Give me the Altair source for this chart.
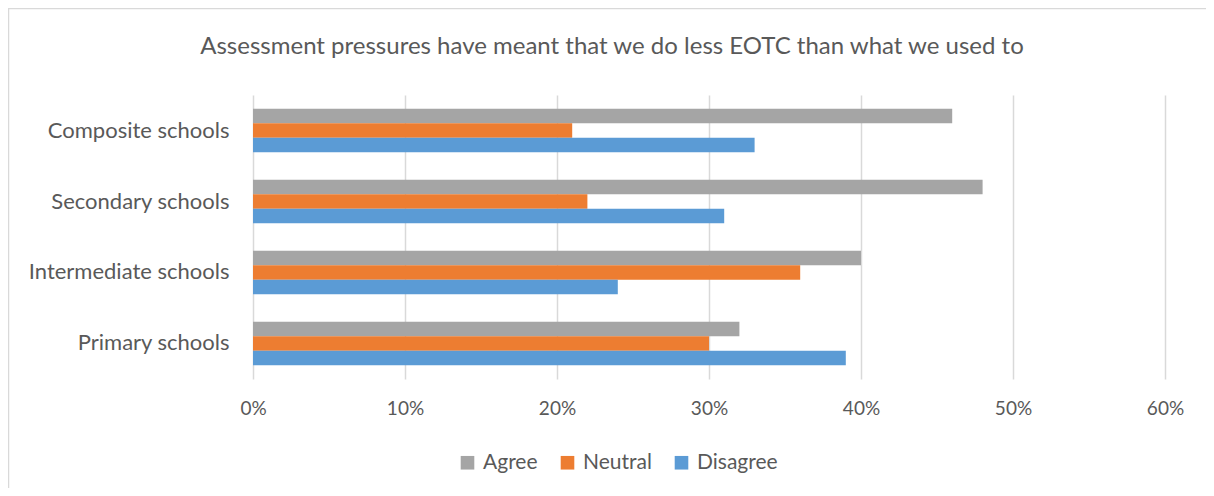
import altair as alt
import pandas as pd

categories = ["Composite schools", "Secondary schools", "Intermediate schools", "Primary schools"]
series = ["Agree", "Neutral", "Disagree"]
agree = [0.46, 0.48, 0.40, 0.32]
neutral = [0.21, 0.22, 0.36, 0.30]
disagree = [0.33, 0.31, 0.24, 0.39]
colors = ["#A5A5A5", "#ED7D31", "#5B9BD5"]
x_ticks = [0, 0.1, 0.2, 0.3, 0.4, 0.5, 0.6]
title_text = "Assessment pressures have meant that we do less EOTC than what we used to"

rows = []
for i, c in enumerate(categories):
    for s, vals in zip(series, [agree, neutral, disagree]):
        rows.append({"category": c, "series": s, "value": vals[i]})
df = pd.DataFrame(rows)

FONT = "Lato"
TXT = "#595959"

bars = alt.Chart(df).mark_bar().encode(
    y=alt.Y("category:N", sort=categories,
            scale=alt.Scale(paddingInner=0.387, paddingOuter=0.194),
            axis=alt.Axis(title=None, ticks=False, domain=False, labelFontSize=22,
                          labelColor=TXT, labelFont=FONT, labelPadding=24, grid=False,
                          labelLimit=400)),
    yOffset=alt.YOffset("series:N", sort=series, scale=alt.Scale(paddingInner=0, paddingOuter=0)),
    x=alt.X("value:Q", scale=alt.Scale(domain=[0, 0.6], nice=False),
            axis=alt.Axis(title=None, format=".0%", values=x_ticks, ticks=False, domain=False,
                          labelFontSize=19, labelColor=TXT, labelFont=FONT, labelPadding=20,
                          labelFlush=False,
                          grid=True, gridColor="#D9D9D9", gridWidth=1.5)),
    color=alt.Color("series:N", sort=series,
                    scale=alt.Scale(domain=series, range=colors),
                    legend=alt.Legend(title=None, orient="none", direction="horizontal",
                                      legendX=204, legendY=357, symbolType="square",
                                      symbolSize=185, symbolStrokeWidth=0, labelFontSize=21,
                                      labelColor=TXT, labelFont=FONT, columnPadding=19,
                                      labelOffset=5)),
)

frame = alt.Chart(pd.DataFrame({"a": [0]})).mark_rect(
    fill=None, stroke="#D9D9D9", strokeWidth=1.5, clip=False
).encode(
    x=alt.value(-244.5), x2=alt.value(990), y=alt.value(-86.5), y2=alt.value(430)
)

title = alt.Chart(pd.DataFrame({"t": [title_text]})).mark_text(
    font=FONT, fontSize=24, color=TXT, align="center", baseline="middle", clip=False
).encode(
    text="t:N", x=alt.value(359), y=alt.value(-48)
)

chart = alt.layer(frame, bars, title).properties(
    width=912, height=284,
    padding={"left": 245, "top": 87, "right": 41, "bottom": 109},
    autosize=alt.AutoSizeParams(type="none"),
    background="white",
).configure_view(strokeWidth=0, stroke=None)

chart.save("out.html", embed_options={"renderer": "svg", "actions": False})
